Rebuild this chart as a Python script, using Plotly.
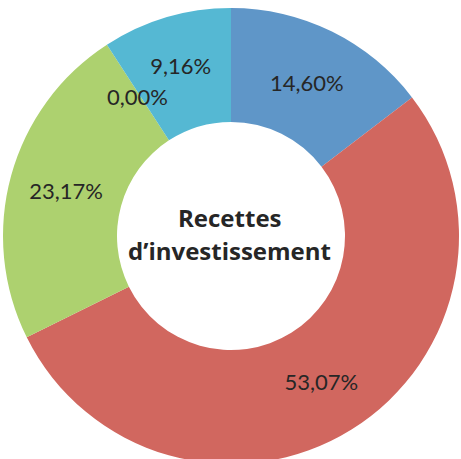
import math
import plotly.graph_objects as go

categories = ["A", "B", "C", "D", "E"]
values = [14.60, 53.07, 23.17, 0.00, 9.16]
colors = ["#5F96C8", "#D1675F", "#ADD16F", "#8B6BB1", "#55B8D3"]
title_lines = ["Recettes", "d’investissement"]

W, H = 461, 466
ML, MR, MT, MB = 3, 2, 8, 2
PW, PH = W - ML - MR, H - MT - MB

total = sum(values)
# zero-valued slices get their label as an annotation (plotly cannot place text in an empty slice)
texts = [" " if v == 0 else "%{value:.2f}%" for v in values]

fig = go.Figure(go.Pie(
    labels=categories,
    values=values,
    hole=0.5,
    sort=False,
    direction="clockwise",
    rotation=0,
    marker=dict(colors=colors, line=dict(width=0)),
    texttemplate=texts,
    textposition="inside",
    insidetextorientation="horizontal",
    textfont=dict(family="Lato", size=22, color="#262626"),
    showlegend=False,
    hoverinfo="label+percent",
    domain=dict(x=[0, 1], y=[0, 1]),
))

annotations = []
cum = 0.0
for v in values:
    if v == 0:
        a = 2 * math.pi * (cum + v / 2) / total
        annotations.append(dict(
            text=("%.2f%%" % v).replace(".", ","),
            x=0.5 + 0.375 * math.sin(a), y=0.5 + 0.375 * math.cos(a) - 0.008,
            xref="paper", yref="paper", showarrow=False,
            xanchor="center", yanchor="middle",
            font=dict(family="Lato", size=22, color="#262626"),
        ))
    cum += v

def py_to_paper(py):
    return (H - MB - py) / PH

annotations.append(dict(
    text="<b>" + title_lines[0] + "</b>", x=0.497, y=py_to_paper(217),
    xref="paper", yref="paper", showarrow=False,
    xanchor="center", yanchor="middle",
    font=dict(family="Open Sans", size=24, color="#262626"),
))
annotations.append(dict(
    text="<b>" + title_lines[1] + "</b>", x=0.497, y=py_to_paper(250),
    xref="paper", yref="paper", showarrow=False,
    xanchor="center", yanchor="middle",
    font=dict(family="Open Sans", size=24, color="#262626"),
))

fig.update_layout(
    width=W, height=H,
    margin=dict(l=ML, r=MR, t=MT, b=MB),
    separators=", ",
    paper_bgcolor="white",
    plot_bgcolor="white",
    uniformtext=dict(minsize=22, mode="show"),
    annotations=annotations,
)

fig.write_html(
    "out.html",
    config={"displayModeBar": False},
    post_script="document.body.style.margin='0';document.body.style.overflow='hidden';"
                "document.documentElement.style.overflow='hidden';",
)
